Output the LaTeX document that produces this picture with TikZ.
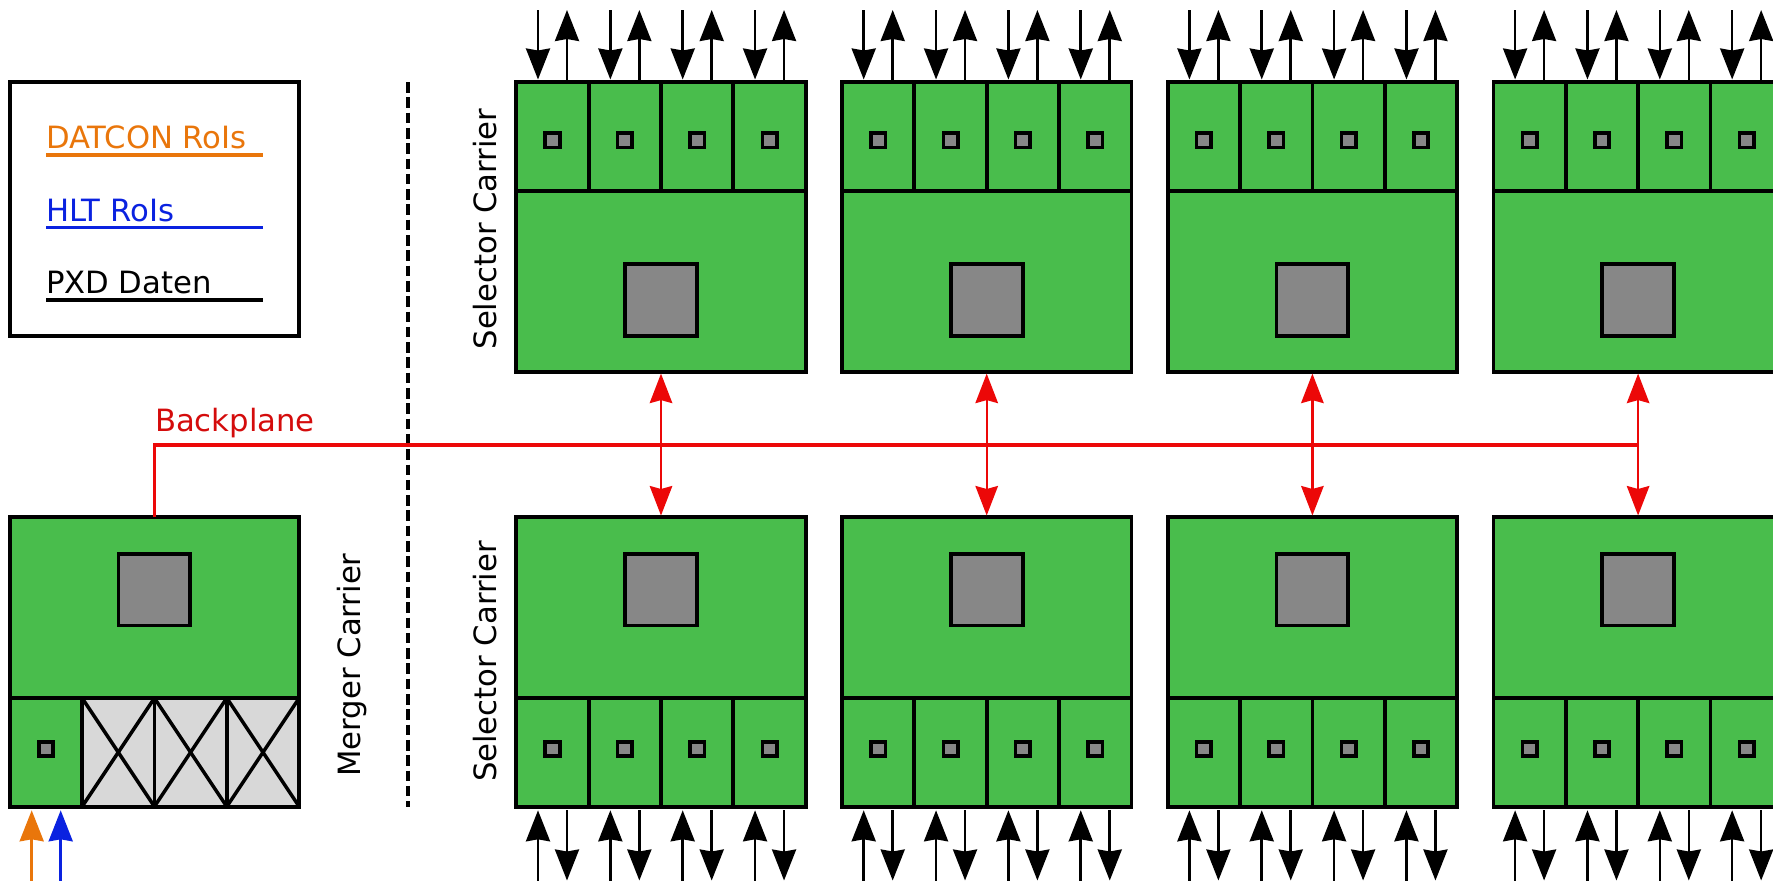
\documentclass[tikz,border=0pt]{standalone}
\usepackage{fontspec}
\setmainfont{DejaVu Sans}
\usetikzlibrary{arrows.meta,calc}
\definecolor{boardgreen}{HTML}{49BD4C}
\definecolor{chipgrey}{HTML}{878787}
\definecolor{deadgrey}{HTML}{D8D8D8}
\definecolor{roiorange}{HTML}{E9760B}
\definecolor{roiblue}{HTML}{0A22E0}
\definecolor{bpred}{HTML}{EC0808}
\definecolor{bptext}{HTML}{D40C0C}
\tikzset{
  box/.style={draw=black,line width=3.8pt,rectangle,inner sep=0pt,outer sep=0pt,anchor=north west},
  board/.style={box,fill=boardgreen,minimum width=289.4pt,minimum height=289.6pt},
  upperrow/.style={box,fill=boardgreen,minimum width=72.4pt,minimum height=108.6pt},
  deadcell/.style={box,fill=deadgrey,minimum width=72.4pt,minimum height=108.6pt},
  bigchip/.style={box,anchor=center,fill=chipgrey,minimum width=71.8pt,minimum height=71.8pt},
  smallchip/.style={box,anchor=center,line width=3.6pt,fill=chipgrey,minimum width=14.5pt,minimum height=14.5pt},
  lab/.style={inner sep=0pt,outer sep=0pt,font=\fontsize{30.7pt}{32pt}\selectfont},
  sig/.style={line width=2.6pt,-{Stealth[length=31pt,width=24pt,inset=2pt]}},
  redsig/.style={bpred,line width=2.2pt,{Stealth[length=29.5pt,width=22.5pt,inset=3pt]}-{Stealth[length=29.5pt,width=22.5pt,inset=3pt]}},
  keyline/.style={line width=3.4pt},
}
\begin{document}
\begin{tikzpicture}[x=1pt,y=-1pt]
\useasboundingbox (0,0) rectangle (1773,881);
\clip (0,0) rectangle (1773,881);

% legend
\node[box,minimum width=289.4pt,minimum height=254pt] (legend) at (9.8,82) {};
\node[lab,anchor=base west,text=roiorange] (tdat) at (46,148.7) {DATCON RoIs};
\node[lab,anchor=base west,text=roiblue] (thlt) at (46,221.5) {HLT RoIs};
\node[lab,anchor=base west,text=black] (tpxd) at (46,293.5) {PXD Daten};
\coordinate (k1a) at (46,155); \coordinate (k1b) at (263,155);
\coordinate (k2a) at (46,227.3); \coordinate (k2b) at (263,227.3);
\coordinate (k3a) at (46,300); \coordinate (k3b) at (263,300);
\draw[keyline,roiorange] (k1a) -- (k1b);
\draw[keyline,roiblue] (k2a) -- (k2b);
\draw[keyline,black] (k3a) -- (k3b);

% divider
\coordinate (d1) at (408,82); \coordinate (d2) at (408,807);
\draw[line width=3.6pt,dash pattern=on 10.6pt off 4.7pt] (d1) -- (d2);

% merger carrier
\node[board] (mb) at (9.8,517) {};
\node[bigchip] (mchip) at (154.4,589.5) {};
\node[upperrow] (mc0) at (9.8,698) {};
\node[deadcell] (mc1) at (82.1,698) {};
\node[deadcell] (mc2) at (154.4,698) {};
\node[deadcell] (mc3) at (226.8,698) {};
\foreach \c in {1,2,3} {
  \draw[line width=3.5pt] (mc\c.north west) -- (mc\c.south east);
  \draw[line width=3.5pt] (mc\c.south west) -- (mc\c.north east);
}
\node[smallchip] (mchip0) at (46,749) {};

% input arrows of the merger
\coordinate (io) at (31.7,881); \coordinate (ib) at (60.7,881);
\draw[sig,roiorange] (io) -- ([yshift=-3.7pt]io |- mc0.south);
\draw[sig,roiblue] (ib) -- ([yshift=-3.7pt]ib |- mc0.south);

% selector carriers
\foreach \b in {0,1,2,3} {
  \pgfmathsetmacro{\bx}{516.3+325.7*\b}
  \node[board] (tb\b) at (\bx,82) {};
  \node[board] (bb\b) at (\bx,517) {};
  \node[bigchip] (tchip\b) at (\bx+144.7,299.7) {};
  \node[bigchip] (bchip\b) at (\bx+144.7,589.5) {};
  \foreach \c in {0,1,2,3} {
    \pgfmathsetmacro{\cx}{\bx+72.35*\c}
    \node[upperrow] (tc\b\c) at (\cx,82) {};
    \node[upperrow] (bc\b\c) at (\cx,698) {};
    \node[smallchip] (ts\b\c) at (\cx+36.2,140.2) {};
    \node[smallchip] (bs\b\c) at (\cx+36.2,749) {};
    % top connectors
    \coordinate (ta\b\c) at (\cx+21.7,10);
    \coordinate (tu\b\c) at (\cx+50.7,10);
    \draw[sig] (ta\b\c) -- ([yshift=2.5pt]ta\b\c |- tc\b\c.north);
    \draw[sig] ([yshift=2.5pt]tu\b\c |- tc\b\c.north) -- (tu\b\c);
    % bottom connectors
    \coordinate (bu\b\c) at (\cx+21.7,881);
    \coordinate (bd\b\c) at (\cx+50.7,880.5);
    \draw[sig] (bu\b\c) -- ([yshift=-3.7pt]bu\b\c |- bc\b\c.south);
    \draw[sig] ([yshift=-3.7pt]bd\b\c |- bc\b\c.south) -- (bd\b\c);
  }
  \draw[redsig] ([yshift=-2pt]tb\b.south) -- ([yshift=1.5pt]bb\b.north);
}

% backplane
\coordinate (bpturn) at (mb.north |- 0,445);
\coordinate (bpend) at (tb3.south |- 0,445);
\draw[bpred,line width=3.3pt,line join=miter] (mb.north) -- (bpturn) -- (bpend);

% labels
\node[lab,anchor=base west,text=bptext] (tbp) at (155,431) {Backplane};
\node[lab,anchor=base,rotate=90] (tm) at (360.7,665) {Merger Carrier};
\node[lab,anchor=base,rotate=90] (ts1) at (496.8,229) {Selector Carrier};
\node[lab,anchor=base,rotate=90] (ts2) at (496.8,661.5) {Selector Carrier};
\end{tikzpicture}
\end{document}
